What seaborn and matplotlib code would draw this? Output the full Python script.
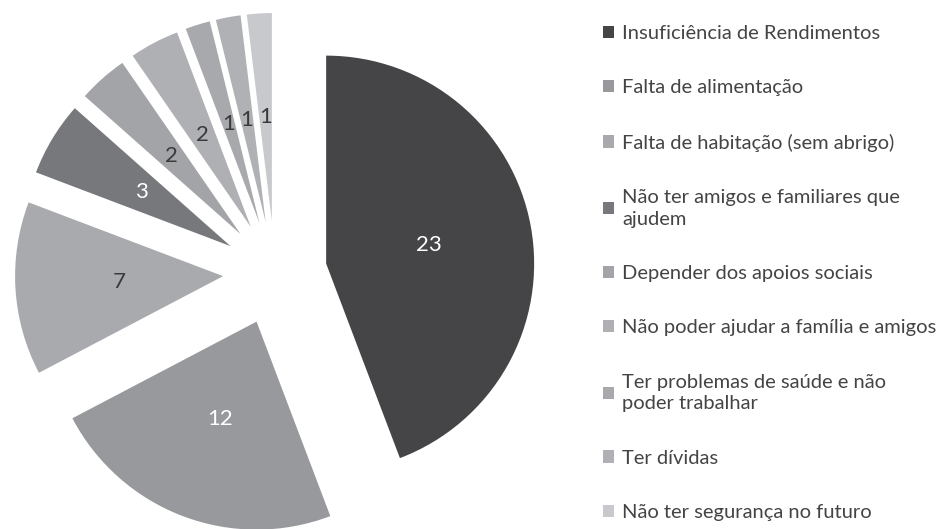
import matplotlib
matplotlib.use("Agg")
import matplotlib.pyplot as plt
import seaborn as sns

# Chart data
categories = [
    "Insuficiência de Rendimentos",
    "Falta de alimentação",
    "Falta de habitação (sem abrigo)",
    "Não ter amigos e familiares que\najudem",
    "Depender dos apoios sociais",
    "Não poder ajudar a família e amigos",
    "Ter problemas de saúde e não\npoder trabalhar",
    "Ter dívidas",
    "Não ter segurança no futuro",
]
counts = [23, 12, 7, 3, 2, 2, 1, 1, 1]

# Grey shades as in the original
colors = ["#454547", "#98999d", "#a9aaae", "#77787c", "#a3a4a8",
          "#afb0b4", "#a8a9ad", "#b0b1b5", "#c8c9cd"]
label_colors = ["white", "white", "#3a3a3a", "white", "#3a3a3a",
                "#3a3a3a", "#3a3a3a", "#3a3a3a", "#3a3a3a"]

sns.set_theme(style="white")
plt.rcParams["font.family"] = ["Lato", "DejaVu Sans"]

W, H = 949, 529
fig = plt.figure(figsize=(W / 100, H / 100), dpi=100)
ax = fig.add_axes([0, 0, 1, 1])

total = sum(counts)
wedges, texts, autotexts = ax.pie(
    counts,
    colors=sns.color_palette(colors),
    startangle=90,
    counterclock=False,
    center=(275, H - 273),
    radius=208,
    explode=[52] * len(counts),
    autopct=lambda p: f"{round(p * total / 100)}",
    pctdistance=0.5,
    wedgeprops=dict(linewidth=0),
    textprops=dict(fontsize=16),
)
for t, c in zip(autotexts, label_colors):
    t.set_color(c)

ax.set_xlim(0, W)
ax.set_ylim(0, H)
ax.set_aspect("equal")
ax.axis("off")

leg = ax.legend(
    wedges, categories,
    loc="upper left",
    bbox_to_anchor=(603 / W, 1 - 25 / H),
    bbox_transform=fig.transFigure,
    frameon=False,
    fontsize=14.5,
    labelcolor="#444444",
    handlelength=0.55,
    handleheight=0.55,
    handletextpad=0.4,
    labelspacing=1.85,
    borderpad=0,
    borderaxespad=0,
)
for t in leg.get_texts():
    t.set_linespacing(1.35)

fig.savefig("out.png", dpi=100)
